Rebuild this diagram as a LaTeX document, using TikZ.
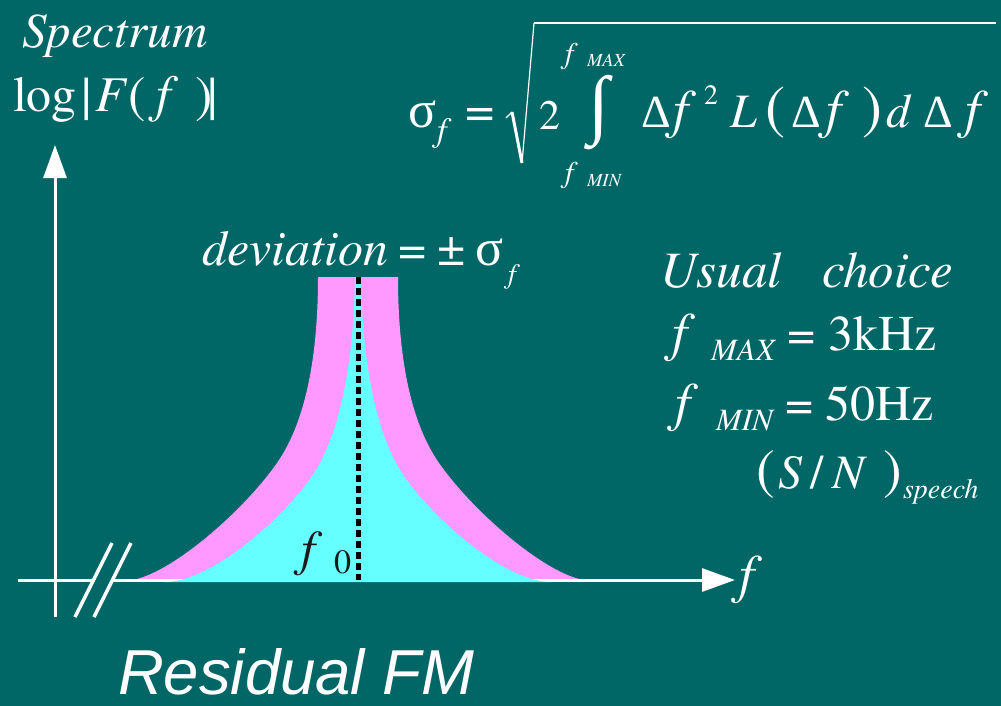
\documentclass[tikz,border=0pt]{standalone}
\usepackage{fontspec}
\setmainfont{texgyretermes}[Extension=.otf, UprightFont=*-regular, ItalicFont=*-italic, BoldFont=*-bold, BoldItalicFont=*-bolditalic]
\newfontfamily\greekfam{Liberation Serif}
\newfontfamily\sansfam{Liberation Sans}
\usetikzlibrary{arrows.meta}
\definecolor{bgteal}{HTML}{006666}
\definecolor{peakpink}{HTML}{FF99FF}
\definecolor{peakcyan}{HTML}{66FFFF}
\definecolor{darkink}{HTML}{1A1A1A}
\newcommand\myfs[1]{\fontsize{#1}{#1}\selectfont}
\tikzset{
  g/.style={inner sep=0pt, outer sep=0pt, anchor=base west, text=white},
  axisline/.style={white, line width=3pt},
  breakline/.style={white, line width=3.5pt},
  tip/.style={-{Triangle[length=33pt,width=23pt]}},
}
\begin{document}
\begin{tikzpicture}[x=1pt,y=-1pt]
\useasboundingbox (0,0) rectangle (1001,706);
\fill[bgteal] (0,0) rectangle (1001,706);

% pink band
\fill[peakpink] (124,581) .. controls (164,581) and (242.8,512.2) .. (277,463)
  .. controls (305.5,422) and (318,357) .. (318,277) -- (398,277)
  .. controls (398,357) and (410.5,422) .. (439,463)
  .. controls (473.2,512.2) and (552,581) .. (592,581) -- cycle;

% axes
\coordinate (h0) at (18,580);
\coordinate (h1) at (93,580);
\coordinate (h2) at (113,580);
\coordinate (h3) at (735,580);
\coordinate (v0) at (55,617);
\coordinate (v1) at (55,145);
\draw[axisline] (h0) -- (h1);
\draw[axisline,tip] (h2) -- (h3);
\draw[axisline,tip] (v0) -- (v1);
\coordinate (b1a) at (112,543); \coordinate (b1b) at (75,617);
\coordinate (b2a) at (131,543); \coordinate (b2b) at (94,617);
\draw[breakline] (b1a) -- (b1b);
\draw[breakline] (b2a) -- (b2b);

% cyan core
\fill[peakcyan] (165,582) .. controls (215,582) and (296.5,507) .. (320,463)
  .. controls (343.5,419) and (354,350) .. (355,277) -- (361,277)
  .. controls (362,350) and (372.5,419) .. (396,463)
  .. controls (419.5,507) and (501,582) .. (551,582) -- cycle;

% centre line
\coordinate (c0) at (358,277);
\coordinate (c1) at (358,580);
\draw[black, line width=5pt, dash pattern=on 7pt off 4pt] (c0) -- (c1);

% Spectrum label
\node[g,font=\myfs{49}\itshape] (spec) at (22,48) {Spectrum};
\node[g,font=\myfs{50}] (lg) at (13,112) {log};
\node[g,font=\myfs{52}] (bar1) at (81,113) {|};
\node[g,font=\myfs{50}\itshape] (capF) at (95,112) {F};
\node[g,font=\myfs{52}] (lp1) at (128,113) {(};
\node[g,font=\myfs{52}\itshape] (ff1) at (156,112) {f};
\node[g,font=\myfs{52}] (rp1) at (195,113) {)};
\node[g,font=\myfs{52}] (bar2) at (207,113) {|};

% formula
\node[g,font=\greekfam\myfs{52}] (sig) at (408,128) {σ};
\node[g,font=\myfs{34}\itshape] (sigf) at (437,142) {f};
\node[g,font=\myfs{52}] (eq1) at (465,128) {=};
\draw[white, line width=1.2pt] (506,118) -- (512,112);
\draw[white, line width=3pt] (512,112) -- (522,163);
\draw[white, line width=1.2pt] (522,163) -- (534,23);
\draw[white, line width=2.2pt] (534,23) -- (996,23);
\node[g,font=\myfs{42}] (two) at (539,130) {2};
\node[inner sep=0pt, outer sep=0pt, text=white, anchor=center, font=\greekfam\myfs{76}] (intg) at (599,113) {∫};
\node[g,font=\myfs{30}\itshape] (fmx) at (565,64) {f};
\node[g,font=\myfs{18.5}\itshape] (mx) at (587,67) {MAX};
\node[g,font=\myfs{30}\itshape] (fmn) at (565,182) {f};
\node[g,font=\myfs{18.5}\itshape] (mn) at (587,186) {MIN};
\node[g,font=\greekfam\myfs{46}] (dl1) at (641,128) {Δ};
\node[g,font=\myfs{54}\itshape] (ff2) at (673,128) {f};
\node[g,font=\myfs{28}] (sq) at (704,105) {2};
\node[g,font=\myfs{48}\itshape] (capL) at (730,128) {L};
\node[g,font=\myfs{60}] (lp2) at (765,128) {(};
\node[g,font=\greekfam\myfs{46}] (dl2) at (791,128) {Δ};
\node[g,font=\myfs{54}\itshape] (ff3) at (826,128) {f};
\node[g,font=\myfs{60}] (rp2) at (862,128) {)};
\node[g,font=\myfs{48}\itshape] (dd) at (886,128) {d};
\node[g,font=\greekfam\myfs{46}] (dl3) at (923,128) {Δ};
\node[g,font=\myfs{54}\itshape] (ff4) at (965,128) {f};

% deviation
\node[g,font=\myfs{50}\itshape] (dev) at (202,265) {deviation};
\node[g,font=\myfs{50}] (eq2) at (398,265) {=};
\node[g,font=\myfs{50}] (pm) at (437,265) {±};
\node[g,font=\greekfam\myfs{52}] (sig2) at (475,265) {σ};
\node[g,font=\myfs{28}\itshape] (sig2f) at (508,283) {f};

% usual choice
\node[g,font=\myfs{51}\itshape] (usual) at (660,287) {Usual};
\node[g,font=\myfs{51}\itshape] (choice) at (822,287) {choice};
\node[g,font=\myfs{54}\itshape] (fA) at (672,350) {f};
\node[g,font=\myfs{31}\itshape] (maxA) at (711,360) {MAX};
\node[g,font=\myfs{50}] (eqA) at (787,350) {=};
\node[g,font=\myfs{50}] (khz) at (828,350) {3kHz};
\node[g,font=\myfs{54}\itshape] (fB) at (675,420) {f};
\node[g,font=\myfs{31}\itshape] (minB) at (716,430) {MIN};
\node[g,font=\myfs{50}] (eqB) at (785,420) {=};
\node[g,font=\myfs{50}] (hz) at (825,420) {50Hz};
\node[g,font=\myfs{56}] (lp3) at (756,488) {(};
\node[g,font=\myfs{48}\itshape] (capS) at (778,488) {S};
\node[g,font=\myfs{48}] (slash) at (810,488) {/};
\node[g,font=\myfs{48}\itshape] (capN) at (832,488) {N};
\node[g,font=\myfs{56}] (rp3) at (883,488) {)};
\node[g,font=\myfs{28}\itshape] (speech) at (903,498) {speech};

% f0 and axis label
\node[g,text=darkink,font=\myfs{50}\itshape] (fz) at (301,565) {f};
\node[g,text=darkink,font=\myfs{34}] (zero) at (334,573) {0};
\node[g,font=\myfs{54}\itshape] (faxis) at (739,592) {f};

% title
\node[g,font=\sansfam\itshape\myfs{63.5}] (title) at (118,694) {Residual FM};
\end{tikzpicture}
\end{document}
